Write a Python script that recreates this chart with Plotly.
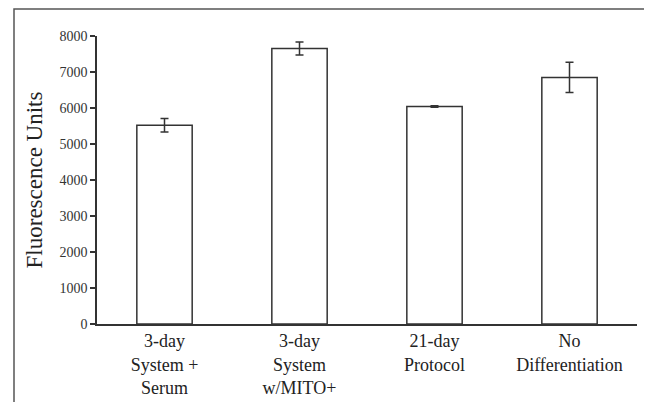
import plotly.graph_objects as go

categories = ["3-day<br>System +<br>Serum", "3-day<br>System<br>w/MITO+", "21-day<br>Protocol", "No<br>Differentiation"]
values = [5520, 7650, 6040, 6850]
errors = [190, 180, 20, 420]
y_ticks = [0, 1000, 2000, 3000, 4000, 5000, 6000, 7000, 8000]

SERIF = "Liberation Serif, Times New Roman, serif"
OFF = 8  # browser body margin offset
W, H = 652 - OFF, 402 - OFF
L, R, T, B = 97 - OFF, 15, 36 - OFF, 78
pw, ph = W - L - R, H - T - B

fig = go.Figure(go.Bar(
    x=categories, y=values,
    width=0.41,
    marker=dict(color="white", line=dict(color="#333333", width=1.5)),
    error_y=dict(type="data", array=errors, visible=True, color="#333333", thickness=1.5, width=4),
))

fig.update_layout(
    width=W, height=H,
    margin=dict(l=L, r=R, t=T, b=B, autoexpand=False),
    plot_bgcolor="white", paper_bgcolor="white",
    font=dict(family=SERIF, color="#222222"),
    showlegend=False,
)
fig.update_xaxes(
    showline=True, linecolor="#333333", linewidth=1.5,
    ticks="", tickfont=dict(family=SERIF, size=18, color="#222222"),
    ticklabelstandoff=0, automargin=False,
    range=[-0.5, 3.5], fixedrange=True,
)
fig.update_yaxes(
    range=[0, 8000], tickvals=y_ticks, ticktext=[str(v) for v in y_ticks],
    showline=True, linecolor="#333333", linewidth=1.5,
    ticks="outside", ticklen=5, tickcolor="#333333", tickwidth=1.5,
    showgrid=False, zeroline=False, automargin=False,
    tickfont=dict(family=SERIF, size=14, color="#333333"),
    title=dict(text="Fluorescence Units", font=dict(family=SERIF, size=23, color="#222222"), standoff=10),
)

# outer frame
fig.add_shape(
    type="rect", xref="paper", yref="paper",
    x0=(14 - OFF - L) / pw, x1=(650 - OFF - L) / pw,
    y0=(T + ph - 420) / ph, y1=(T + ph - (9 - OFF)) / ph,
    line=dict(color="#555555", width=1.5), layer="below",
)

fig.write_html("out.html")
